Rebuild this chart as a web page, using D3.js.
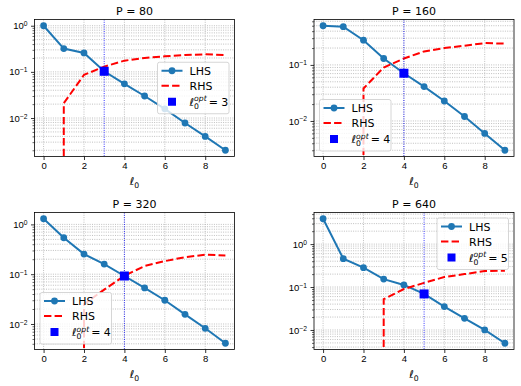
<!DOCTYPE html>
<html>
<head>
<meta charset="utf-8">
<style>
    body { margin: 0; background: #fff; }
    svg { font-family: "DejaVu Sans", sans-serif; }
    .grid line { stroke: #b0b0b0; stroke-width: 0.8; stroke-dasharray: 1,1.3; fill: none; }
    .spine { fill: none; stroke: #000; stroke-width: 0.8; }
    .tick-label { font-size: 9.5px; fill: #000; }
    .lhs { fill: none; stroke: #1f77b4; stroke-width: 2; }
    .rhs { fill: none; stroke: red; stroke-width: 2; stroke-dasharray: 7.4,3.2; }
    .vline { stroke: blue; stroke-width: 0.8; stroke-dasharray: 1,1.3; }
</style>
</head>
<body>
<script src="https://cdn.jsdelivr.net/npm/d3@7/dist/d3.min.js"></script>
<script>
    // x values shared by every panel
    var ell = [0, 1, 2, 3, 4, 5, 6, 7, 8, 9];
    var xTicks = [0, 2, 4, 6, 8];
    var pValues = [80, 160, 320, 640];

    // LHS / RHS (0 = non-positive, not shown on log axis)
    var lhs80  = [1.0, 0.32, 0.257, 0.103, 0.055, 0.030, 0.0158, 0.0078, 0.0040, 0.0020];
    var rhs80  = [0, 0.021, 0.086, 0.13, 0.175, 0.20, 0.217, 0.232, 0.24, 0.232];
    var lhs160 = [0.50, 0.48, 0.276, 0.13, 0.071, 0.041, 0.0227, 0.012, 0.006, 0.003];
    var rhs160 = [0, 0, 0.038, 0.09, 0.13, 0.174, 0.20, 0.22, 0.245, 0.24];
    var lhs320 = [1.3, 0.54, 0.253, 0.16, 0.092, 0.053, 0.030, 0.0156, 0.0082, 0.0041];
    var rhs320 = [0, 0, 0.025, 0.049, 0.093, 0.146, 0.183, 0.22, 0.246, 0.238];
    var lhs640 = [3.9, 0.457, 0.283, 0.153, 0.112, 0.069, 0.035, 0.0187, 0.010, 0.0049];
    var rhs640 = [0, 0, 0, 0.052, 0.09, 0.125, 0.171, 0.20, 0.235, 0.24];
    var lOpt = [3, 4, 4, 5];

    var lhsAll = [lhs80, lhs160, lhs320, lhs640];
    var rhsAll = [rhs80, rhs160, rhs320, rhs640];
    var legendLoc = ["center right", "lower left", "lower left", "upper right"];

    var width = 521, height = 386;
    var panelW = 200, panelH = 137;
    var lefts = [34.5, 314], tops = [19.5, 212.5];

    var svg = d3.select("body").append("svg")
            .attr("width", width)
            .attr("height", height);

    function logDomain(values) {
        var pos = values.filter(function (v) { return v > 0; });
        var lo = Math.log10(d3.min(pos)), hi = Math.log10(d3.max(pos));
        var m = (hi - lo) * 0.05;
        return [Math.pow(10, lo - m), Math.pow(10, hi + m)];
    }

    // l_0^{opt} = n in the legend
    function optLabel(g, x, y, n) {
        var a = g.append("text").attr("x", x).attr("y", y)
                .attr("font-size", 11).attr("font-style", "italic").text("\u2113");
        var w = a.node().getComputedTextLength();
        g.append("text").attr("x", x + w).attr("y", y + 3)
                .attr("font-size", 7.7).text("0");
        var sup = g.append("text").attr("x", x + w).attr("y", y - 4.5)
                .attr("font-size", 7.7).attr("font-style", "italic").text("opt");
        var w2 = sup.node().getComputedTextLength();
        g.append("text").attr("x", x + w + w2 + 2).attr("y", y)
                .attr("font-size", 11).text("= " + n);
    }

    function legend(g, loc, n) {
        var lw = 71.5, lh = 51.5, pad = 5.5;
        var x0 = loc.indexOf("right") >= 0 ? panelW - pad - lw : pad;
        var y0;
        if (loc.indexOf("upper") >= 0) y0 = pad;
        else if (loc.indexOf("lower") >= 0) y0 = panelH - pad - lh;
        else y0 = (panelH - lh) / 2;

        var lg = g.append("g").attr("transform", "translate(" + x0 + "," + y0 + ")");
        lg.append("rect")
                .attr("width", lw).attr("height", lh)
                .attr("rx", 2)
                .attr("fill", "white").attr("fill-opacity", 0.8)
                .attr("stroke", "#cccccc").attr("stroke-width", 0.8);

        var rows = [8.5, 23.5, 39.5];
        lg.append("line").attr("class", "lhs")
                .attr("x1", 4).attr("x2", 25).attr("y1", rows[0]).attr("y2", rows[0]);
        lg.append("circle").attr("cx", 14.5).attr("cy", rows[0]).attr("r", 3.4)
                .attr("fill", "#1f77b4");
        lg.append("text").attr("x", 32).attr("y", rows[0] + 4)
                .attr("font-size", 11).text("LHS");

        lg.append("line").attr("class", "rhs")
                .attr("x1", 4).attr("x2", 25).attr("y1", rows[1]).attr("y2", rows[1]);
        lg.append("text").attr("x", 32).attr("y", rows[1] + 4)
                .attr("font-size", 11).text("RHS");

        lg.append("rect").attr("x", 14.5 - 4).attr("y", rows[2] - 4)
                .attr("width", 8).attr("height", 8).attr("fill", "blue");
        optLabel(lg, 32, rows[2] + 4, n);
    }

    pValues.forEach(function (p, i) {
        var col = i % 2, row = Math.floor(i / 2);
        var lhs = lhsAll[i], rhs = rhsAll[i];

        var g = svg.append("g")
                .attr("transform", "translate(" + lefts[col] + "," + tops[row] + ")");

        var xExt = d3.extent(ell), xm = (xExt[1] - xExt[0]) * 0.05;
        var x = d3.scaleLinear()
                .domain([xExt[0] - xm, xExt[1] + xm])
                .range([0, panelW]);
        var y = d3.scaleLog()
                .domain(logDomain(lhs.concat(rhs)))
                .range([panelH, 0]);

        var dom = y.domain();
        var decades = [], minors = [];
        for (var e = Math.floor(Math.log10(dom[0])); e <= Math.ceil(Math.log10(dom[1])); e++) {
            var d = Math.pow(10, e);
            if (d >= dom[0] && d <= dom[1]) decades.push(e);
            for (var k = 2; k <= 9; k++) {
                var v = k * d;
                if (v >= dom[0] && v <= dom[1]) minors.push(v);
            }
        }

        g.append("clipPath").attr("id", "clip" + i)
                .append("rect").attr("width", panelW).attr("height", panelH);

        // grid
        var grid = g.append("g").attr("class", "grid");
        grid.selectAll(".gx").data(xTicks).enter().append("line")
                .attr("x1", x).attr("x2", x)
                .attr("y1", 0).attr("y2", panelH);
        grid.selectAll(".gy").data(decades.map(function (e) { return Math.pow(10, e); }).concat(minors))
                .enter().append("line")
                .attr("x1", 0).attr("x2", panelW)
                .attr("y1", y).attr("y2", y);

        var plot = g.append("g").attr("clip-path", "url(#clip" + i + ")");

        var lhsLine = d3.line()
                .x(function (d, j) { return x(ell[j]); })
                .y(function (d) { return y(d); });
        plot.append("path").attr("class", "lhs").attr("d", lhsLine(lhs));
        plot.selectAll(".dot").data(lhs).enter().append("circle")
                .attr("cx", function (d, j) { return x(ell[j]); })
                .attr("cy", function (d) { return y(d); })
                .attr("r", 3.4)
                .attr("fill", "#1f77b4");

        // non-positive values fall far below the axis, like matplotlib clipping
        var rhsLine = d3.line()
                .x(function (d, j) { return x(ell[j]); })
                .y(function (d) { return d > 0 ? y(d) : panelH + 1e5; });
        plot.append("path").attr("class", "rhs").attr("d", rhsLine(rhs));

        plot.append("line").attr("class", "vline")
                .attr("x1", x(lOpt[i])).attr("x2", x(lOpt[i]))
                .attr("y1", 0).attr("y2", panelH);

        plot.append("rect")
                .attr("x", x(lOpt[i]) - 4.5)
                .attr("y", y(lhs[lOpt[i]]) - 4.5)
                .attr("width", 9).attr("height", 9)
                .attr("fill", "blue");

        // axes
        var xAxis = d3.axisBottom(x).tickValues(xTicks).tickSize(3.5).tickPadding(2.5)
                .tickFormat(d3.format("d"));
        var gx = g.append("g").attr("transform", "translate(0," + panelH + ")").call(xAxis);
        gx.select(".domain").remove();
        gx.selectAll("text").attr("class", "tick-label").attr("font-family", null).attr("font-size", null);
        gx.selectAll("line").attr("stroke-width", 0.8);

        var gyMinor = g.append("g").call(d3.axisLeft(y).tickValues(minors).tickSize(2).tickFormat(""));
        gyMinor.select(".domain").remove();
        gyMinor.selectAll("line").attr("stroke-width", 0.6);

        var yAxis = d3.axisLeft(y).tickValues(decades.map(function (e) { return Math.pow(10, e); }))
                .tickSize(3.5).tickPadding(3.5).tickFormat("");
        var gy = g.append("g").call(yAxis);
        gy.select(".domain").remove();
        gy.selectAll("line").attr("stroke-width", 0.8);
        gy.selectAll(".tick").each(function (d) {
            var e = Math.round(Math.log10(d));
            var t = d3.select(this).select("text")
                    .attr("class", "tick-label")
                    .attr("font-family", null).attr("font-size", null)
                    .attr("x", -7).attr("dy", "0.32em");
            t.append("tspan").text("10");
            t.append("tspan").attr("font-size", "6.7px").attr("dy", "-0.45em")
                    .text(e < 0 ? "\u2212" + (-e) : String(e));
        });

        g.append("rect").attr("class", "spine")
                .attr("width", panelW).attr("height", panelH);

        legend(g, legendLoc[i], lOpt[i]);

        g.append("text")
                .attr("x", panelW / 2).attr("y", -4.5)
                .attr("text-anchor", "middle")
                .attr("font-size", 11)
                .text("P = " + p);

        var xl = g.append("text")
                .attr("x", panelW / 2).attr("y", panelH + 28)
                .attr("text-anchor", "middle")
                .attr("font-size", 11);
        xl.append("tspan").attr("font-style", "italic").text("\u2113");
        xl.append("tspan").attr("font-size", "7.7px").attr("dy", 3).text("0");
    });
</script>
</body>
</html>
